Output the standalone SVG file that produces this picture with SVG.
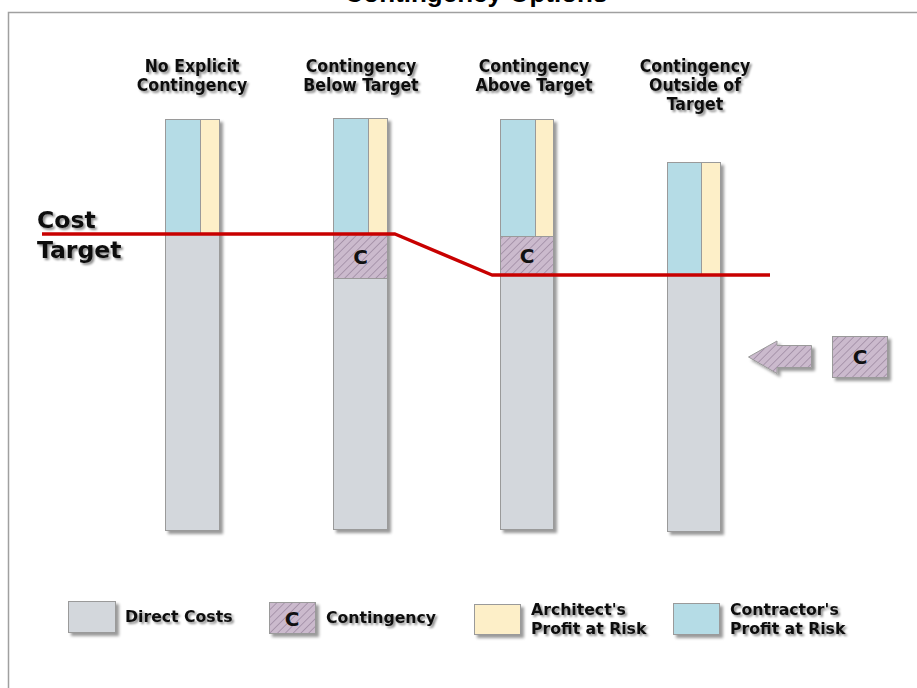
<svg xmlns="http://www.w3.org/2000/svg" width="917" height="688" viewBox="0 0 917 688">
<defs>
<filter id="bs" x="-30%" y="-30%" width="160%" height="160%"><feDropShadow dx="3" dy="3" stdDeviation="1.5" flood-color="#000" flood-opacity="0.4"/></filter>
<filter id="ts" x="-20%" y="-40%" width="140%" height="180%"><feDropShadow dx="2" dy="2" stdDeviation="1.2" flood-color="#000" flood-opacity="0.45"/></filter>
<pattern id="hatch" patternUnits="userSpaceOnUse" width="5.5" height="5.5" patternTransform="rotate(45)">
<rect width="5.5" height="5.5" fill="#cbbacd"/>
<line x1="0" y1="0" x2="0" y2="5.5" stroke="#a08ca4" stroke-width="1.6"/>
</pattern>
</defs>
<style>
.seg{stroke:#9a9a9a;stroke-width:1}
.dc{fill:#d3d7dc}
.bl{fill:#b5dce6}
.be{fill:#fdefc8}
.ct{fill:url(#hatch)}
.hd{font-family:"DejaVu Sans Condensed","DejaVu Sans",sans-serif;font-weight:bold;font-size:17.5px;fill:#111;text-anchor:middle}
.lg{font-family:"DejaVu Sans",sans-serif;font-weight:bold;font-size:15.7px;fill:#111}
.cl{font-family:"DejaVu Sans",sans-serif;font-weight:bold;font-size:20px;fill:#111;text-anchor:middle}
.ttl{font-family:"Liberation Sans",Arial,sans-serif;font-weight:bold;font-size:26px;fill:#000;text-anchor:middle}
</style>
<rect width="917" height="688" fill="#fff"/>
<rect x="8.5" y="12.5" width="930" height="700" fill="none" stroke="#a0a0a0" stroke-width="1.5"/>
<text class="ttl" x="476" y="2">Contingency Options</text>

<g id="headers" filter="url(#ts)">
<text class="hd" x="192" y="72">No Explicit</text>
<text class="hd" x="192" y="91">Contingency</text>
<text class="hd" x="361" y="72">Contingency</text>
<text class="hd" x="361" y="91">Below Target</text>
<text class="hd" x="534" y="72">Contingency</text>
<text class="hd" x="534" y="91">Above Target</text>
<text class="hd" x="695" y="72">Contingency</text>
<text class="hd" x="695" y="91">Outside of</text>
<text class="hd" x="695" y="110">Target</text>
</g>

<g id="col1" filter="url(#bs)">
<rect class="seg dc" x="165.5" y="234.5" width="54" height="296"/>
<rect class="seg bl" x="165.5" y="119.5" width="35" height="115"/>
<rect class="seg be" x="200.5" y="119.5" width="19" height="115"/>
</g>
<g id="col2" filter="url(#bs)">
<rect class="seg dc" x="333.5" y="278.5" width="54" height="251"/>
<rect class="seg ct" x="333.5" y="234.5" width="54" height="44"/>
<rect class="seg bl" x="333.5" y="118.5" width="35" height="116"/>
<rect class="seg be" x="368.5" y="118.5" width="19" height="116"/>
</g>
<text class="cl" x="360.5" y="264">C</text>
<g id="col3" filter="url(#bs)">
<rect class="seg dc" x="500.5" y="275.5" width="53" height="254"/>
<rect class="seg ct" x="500.5" y="236.5" width="53" height="39"/>
<rect class="seg bl" x="500.5" y="119.5" width="35" height="117"/>
<rect class="seg be" x="535.5" y="119.5" width="18" height="117"/>
</g>
<text class="cl" x="527" y="263">C</text>
<g id="col4" filter="url(#bs)">
<rect class="seg dc" x="667.5" y="275.5" width="53" height="256"/>
<rect class="seg bl" x="667.5" y="162.5" width="34" height="113"/>
<rect class="seg be" x="701.5" y="162.5" width="19" height="113"/>
</g>

<g id="connectors">
<polyline points="42,234 395,234 492,275 770,275" fill="none" stroke="#c80000" stroke-width="3.5" stroke-linejoin="round"/>
</g>

<g id="cost-target" filter="url(#ts)">
<text class="lg" style="font-size:23.5px" x="37" y="228">Cost</text>
<text class="lg" style="font-size:23.5px" x="37" y="258">Target</text>
</g>

<g id="move-arrow" filter="url(#bs)">
<polygon class="seg ct" points="748.5,357 777,341 777,345.5 811.5,345.5 811.5,367.5 777,367.5 777,373.5"/>
</g>
<g id="outside-c">
<rect class="seg ct" x="832.5" y="336.5" width="55" height="41" filter="url(#bs)"/>
<text class="cl" x="860" y="364">C</text>
</g>

<g id="legend-direct">
<rect class="seg dc" x="68.5" y="601.5" width="47" height="31" filter="url(#bs)"/>
<text class="lg" x="125" y="622" filter="url(#ts)">Direct Costs</text>
</g>
<g id="legend-contingency">
<rect class="seg ct" x="269.5" y="602.5" width="46" height="31" filter="url(#bs)"/>
<text class="cl" x="292" y="626">C</text>
<text class="lg" x="326" y="623" filter="url(#ts)">Contingency</text>
</g>
<g id="legend-architect">
<rect class="seg be" x="474.5" y="604.5" width="46" height="30" filter="url(#bs)"/>
<text class="lg" x="531" y="615" filter="url(#ts)">Architect's</text>
<text class="lg" x="531" y="634" filter="url(#ts)">Profit at Risk</text>
</g>
<g id="legend-contractor">
<rect class="seg bl" x="673.5" y="603.5" width="46" height="31" filter="url(#bs)"/>
<text class="lg" x="730" y="615" filter="url(#ts)">Contractor's</text>
<text class="lg" x="730" y="634" filter="url(#ts)">Profit at Risk</text>
</g>
</svg>
